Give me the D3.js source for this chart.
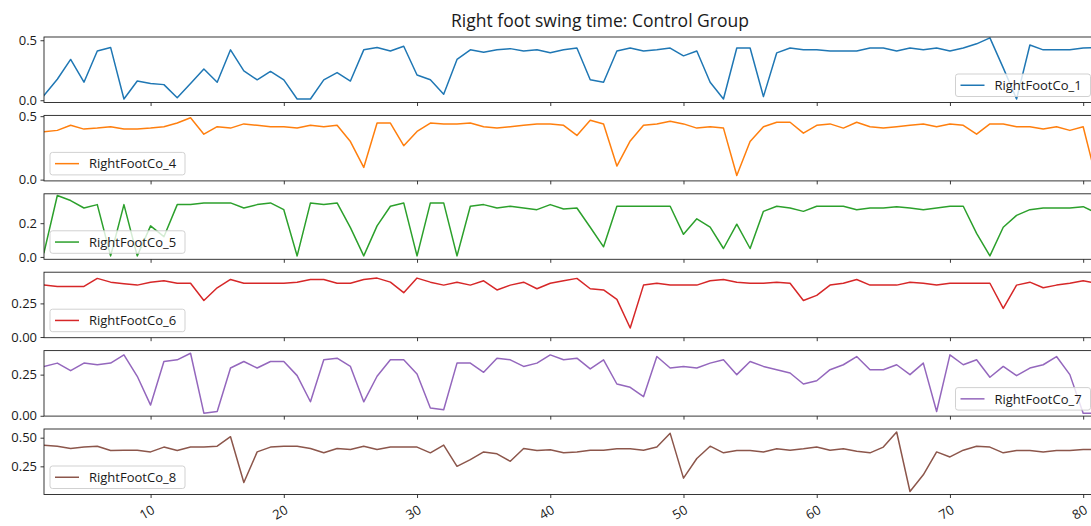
<!DOCTYPE html>
<html><head><meta charset="utf-8">
<script src="https://cdn.jsdelivr.net/npm/d3@7"></script>
<style>
body{margin:0;background:#fff;}
svg{display:block;}
text{font-family:"Open Sans",sans-serif;fill:#1a1a1a;}
</style>
</head><body>
<svg id="chart" width="1091" height="526"></svg>
<script>
// ---------- data ----------
const xIndex = [2,3,4,5,6,7,8,9,10,11,12,13,14,15,16,17,18,19,20,21,22,23,24,25,26,27,28,29,30,31,32,33,34,35,36,37,38,39,40,41,42,43,44,45,46,47,48,49,50,51,52,53,54,55,56,57,58,59,60,61,62,63,64,65,66,67,68,69,70,71,72,73,74,75,76,77,78,79,80,81];
const xTickValues = [10,20,30,40,50,60,70,80];
const titleText = "Right foot swing time: Control Group";
const seriesNames = ["RightFootCo_1","RightFootCo_4","RightFootCo_5","RightFootCo_6","RightFootCo_7","RightFootCo_8"];

const rightFootCo1 = [
 0.04,0.175,0.34,0.15,0.41,0.44,0.01,0.16,0.14,0.13,
 0.02,0.14,0.26,0.15,0.42,0.245,0.17,0.24,0.17,0.01,
 0.01,0.17,0.23,0.16,0.42,0.44,0.41,0.45,0.21,0.17,
 0.05,0.34,0.42,0.40,0.42,0.43,0.41,0.42,0.395,0.42,
 0.435,0.17,0.15,0.41,0.435,0.41,0.42,0.435,0.37,0.41,
 0.15,0.01,0.435,0.435,0.03,0.395,0.435,0.42,0.42,0.41,
 0.41,0.41,0.435,0.435,0.41,0.435,0.42,0.435,0.41,0.435,
 0.47,0.52,0.27,0.01,0.46,0.42,0.42,0.42,0.435,0.44];
const rightFootCo4 = [
 0.377,0.388,0.428,0.398,0.406,0.417,0.398,0.398,0.406,0.417,
 0.446,0.487,0.358,0.417,0.406,0.439,0.428,0.417,0.417,0.406,
 0.428,0.417,0.428,0.30,0.096,0.446,0.446,0.267,0.38,0.446,
 0.439,0.439,0.446,0.417,0.406,0.417,0.428,0.439,0.439,0.428,
 0.348,0.468,0.439,0.107,0.305,0.428,0.439,0.46,0.439,0.406,
 0.417,0.406,0.032,0.30,0.417,0.452,0.452,0.366,0.428,0.439,
 0.406,0.452,0.417,0.406,0.417,0.428,0.439,0.417,0.439,0.428,
 0.358,0.439,0.439,0.417,0.417,0.398,0.417,0.388,0.417,0.0];
const rightFootCo5 = [
 0.026,0.364,0.334,0.29,0.31,0.006,0.31,0.006,0.184,0.12,
 0.31,0.31,0.32,0.32,0.32,0.29,0.31,0.32,0.28,0.006,
 0.32,0.31,0.32,0.174,0.006,0.184,0.30,0.32,0.006,0.32,
 0.32,0.006,0.30,0.31,0.29,0.30,0.29,0.28,0.31,0.284,
 0.29,0.176,0.06,0.30,0.30,0.30,0.30,0.30,0.134,0.226,
 0.176,0.05,0.194,0.05,0.27,0.30,0.29,0.27,0.30,0.30,
 0.30,0.28,0.29,0.29,0.298,0.29,0.28,0.29,0.30,0.30,
 0.14,0.006,0.176,0.246,0.28,0.29,0.29,0.29,0.298,0.26];
const rightFootCo6 = [
 0.386,0.376,0.376,0.376,0.436,0.408,0.396,0.386,0.408,0.418,
 0.40,0.40,0.272,0.366,0.428,0.40,0.40,0.40,0.40,0.408,
 0.428,0.428,0.40,0.40,0.428,0.438,0.408,0.33,0.438,0.408,
 0.386,0.408,0.386,0.418,0.35,0.386,0.408,0.359,0.40,0.418,
 0.436,0.359,0.35,0.28,0.067,0.386,0.40,0.386,0.386,0.386,
 0.418,0.428,0.408,0.40,0.40,0.408,0.40,0.272,0.31,0.386,
 0.40,0.428,0.386,0.386,0.386,0.408,0.40,0.386,0.40,0.40,
 0.40,0.40,0.213,0.386,0.408,0.366,0.386,0.40,0.418,0.40];
const rightFootCo7 = [
 0.30,0.32,0.274,0.32,0.31,0.32,0.37,0.24,0.065,0.33,
 0.34,0.38,0.016,0.026,0.29,0.33,0.29,0.33,0.33,0.244,
 0.085,0.34,0.35,0.30,0.085,0.24,0.34,0.34,0.254,0.047,
 0.037,0.32,0.32,0.264,0.35,0.34,0.30,0.32,0.37,0.34,
 0.35,0.285,0.34,0.193,0.173,0.116,0.36,0.29,0.30,0.29,
 0.32,0.34,0.25,0.33,0.30,0.28,0.26,0.193,0.213,0.28,
 0.31,0.36,0.28,0.28,0.31,0.25,0.32,0.026,0.37,0.31,
 0.34,0.234,0.30,0.244,0.29,0.31,0.36,0.25,0.016,0.016];
const rightFootCo8 = [
 0.435,0.426,0.406,0.418,0.426,0.388,0.391,0.391,0.376,0.418,
 0.388,0.418,0.418,0.426,0.509,0.109,0.376,0.418,0.426,0.426,
 0.406,0.368,0.406,0.397,0.426,0.397,0.418,0.418,0.418,0.368,
 0.435,0.25,0.309,0.376,0.359,0.294,0.406,0.388,0.395,0.368,
 0.376,0.391,0.391,0.403,0.403,0.391,0.418,0.538,0.147,0.318,
 0.426,0.368,0.388,0.388,0.376,0.403,0.391,0.403,0.418,0.391,
 0.403,0.382,0.368,0.418,0.55,0.03,0.176,0.376,0.332,0.391,
 0.426,0.418,0.368,0.388,0.388,0.376,0.388,0.388,0.397,0.397];

const seriesValues = [rightFootCo1,rightFootCo4,rightFootCo5,rightFootCo6,rightFootCo7,rightFootCo8];
const yTickValues = [[0,0.5],[0,0.5],[0,0.2],[0,0.25],[0,0.25],[0.25,0.5]];
const yLimits = [[-0.019,0.527],[-0.010,0.506],[-0.014,0.374],[-0.005,0.482],[-0.002,0.396],[0.004,0.576]];

// ---------- styling / layout ----------
const colors = ["#1f77b4","#ff7f0e","#2ca02c","#d62728","#9467bd","#8c564b"];
const tickFormats = [".1f",".1f",".1f",".2f",".2f",".2f"];
const legendCorner = ["lr","ll","ll","ll","lr","ll"];
const axLeft = 44, axRight = 1096.5;
const panelTop0 = 37, panelStep = 78.4, panelH = 65.5;

const svg = d3.select("#chart");
svg.append("rect").attr("width",1091).attr("height",526).attr("fill","#fff");

const x = d3.scaleLinear().domain([d3.min(xIndex), d3.max(xIndex)]).range([axLeft, axRight]);

svg.append("text")
  .attr("x", 600).attr("y", 27)
  .attr("text-anchor","middle")
  .style("font-size","17.5px")
  .text(titleText);

const defs = svg.append("defs");

seriesValues.forEach((vals, i) => {
  const top = panelTop0 + i*panelStep, bottom = top + panelH;
  const y = d3.scaleLinear().domain(yLimits[i]).range([bottom, top]);
  const g = svg.append("g");

  defs.append("clipPath").attr("id","clip"+i)
    .append("rect").attr("x",axLeft).attr("y",top).attr("width",axRight-axLeft).attr("height",panelH);

  const pts = xIndex.map((xv,j)=>[xv, vals[j]]);
  g.append("path").datum(pts)
    .attr("clip-path",`url(#clip${i})`)
    .attr("fill","none").attr("stroke",colors[i]).attr("stroke-width",1.5)
    .attr("stroke-linejoin","round").attr("stroke-linecap","square")
    .attr("d", d3.line().x(d=>x(d[0])).y(d=>y(d[1])));

  // frame
  g.append("rect").attr("x",axLeft).attr("y",top).attr("width",axRight-axLeft).attr("height",panelH)
    .attr("fill","none").attr("stroke","#222").attr("stroke-width",0.9);

  // y axis
  const ya = g.append("g").attr("transform",`translate(${axLeft},0)`)
    .call(d3.axisLeft(y).tickValues(yTickValues[i]).tickFormat(d3.format(tickFormats[i])).tickSize(3.5).tickPadding(3.5));
  ya.select(".domain").remove();
  ya.selectAll("line").attr("stroke","#222").attr("stroke-width",0.9);
  ya.selectAll("text").style("font-size","13px").style("font-family","Open Sans").attr("fill","#1a1a1a");

  // x axis
  const xa = g.append("g").attr("transform",`translate(0,${bottom})`)
    .call(d3.axisBottom(x).tickValues(xTickValues).tickSize(3.5).tickFormat(i===seriesValues.length-1 ? d3.format("d") : ""));
  xa.select(".domain").remove();
  xa.selectAll("line").attr("stroke","#222").attr("stroke-width",0.9);
  if (i === seriesValues.length-1) {
    xa.selectAll("text")
      .style("font-size","13px").style("font-family","Open Sans").attr("fill","#1a1a1a")
      .attr("x",0).attr("y",0).attr("dy","0.72em")
      .attr("transform","translate(0,10) rotate(-30)")
      .style("text-anchor","end");
  } else {
    xa.selectAll("text").remove();
  }

  // legend
  const lw = 135, lh = 22.5, pad = 6;
  const lx = legendCorner[i] === "lr" ? (axRight - pad - lw) : (axLeft + pad);
  const ly = bottom - pad - lh;
  const lg = g.append("g").attr("transform",`translate(${lx},${ly})`);
  lg.append("rect").attr("width",lw).attr("height",lh).attr("rx",2.5)
    .attr("fill","#fff").attr("fill-opacity",0.8).attr("stroke","#cccccc").attr("stroke-width",0.9);
  lg.append("line").attr("x1",5).attr("x2",29).attr("y1",lh/2).attr("y2",lh/2)
    .attr("stroke",colors[i]).attr("stroke-width",1.5);
  lg.append("text").attr("x",39).attr("y",lh/2).attr("dy","0.36em")
    .style("font-size","13px").text(seriesNames[i]);
});
</script>
</body></html>
